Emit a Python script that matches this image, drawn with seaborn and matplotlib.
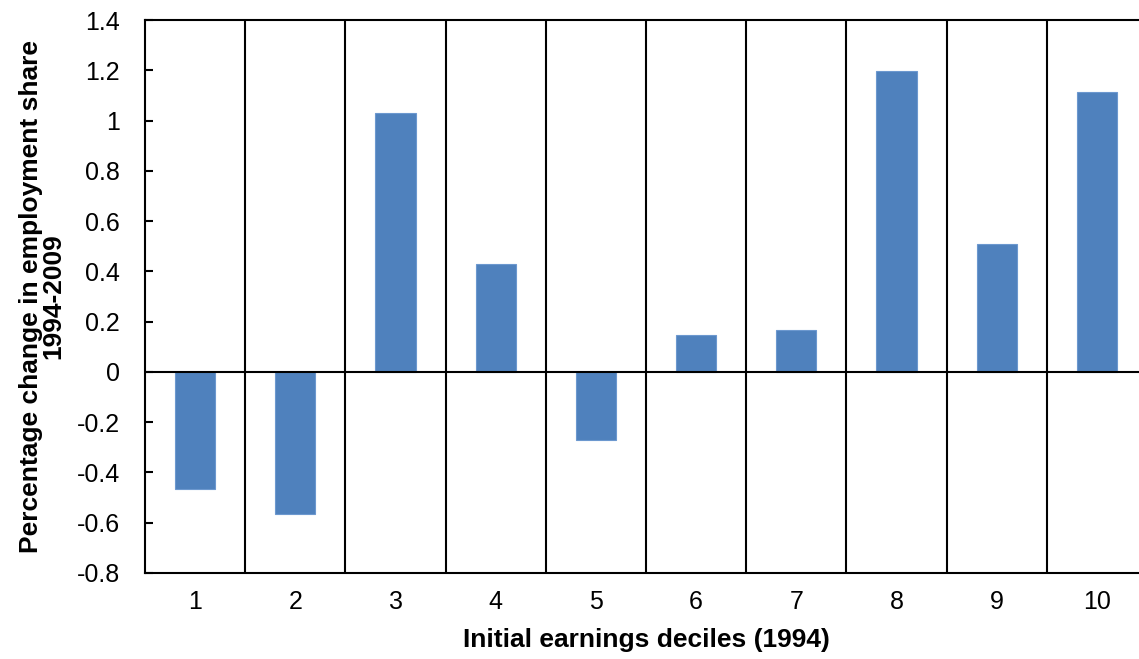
import matplotlib
matplotlib.use("Agg")
import matplotlib.pyplot as plt
import pandas as pd
import seaborn as sns

deciles = ["1", "2", "3", "4", "5", "6", "7", "8", "9", "10"]
change = [-0.465, -0.567, 1.03, 0.428, -0.27, 0.148, 0.165, 1.198, 0.51, 1.115]
y_ticks = [-0.8, -0.6, -0.4, -0.2, 0, 0.2, 0.4, 0.6, 0.8, 1, 1.2, 1.4]
y_tick_labels = ["-0.8", "-0.6", "-0.4", "-0.2", "0", "0.2", "0.4", "0.6", "0.8", "1", "1.2", "1.4"]

df = pd.DataFrame({"decile": deciles, "change": change})

sns.set_theme(style="white")
plt.rcParams["font.family"] = ["Liberation Sans", "DejaVu Sans"]

fig = plt.figure(figsize=(11.39, 6.59), dpi=100)
ax = fig.add_axes([145 / 1139, 1 - 573 / 659, 1002 / 1139, 553 / 659])

sns.barplot(data=df, x="decile", y="change", color="#4F81BD", saturation=1,
            width=0.4, edgecolor="#6C98CF", linewidth=0.8, ax=ax, zorder=3)

ax.set_xlim(-0.5, 9.5)
ax.set_ylim(-0.8, 1.4)
ax.set_yticks(y_ticks)
ax.set_yticklabels(y_tick_labels)

# category separators
ax.set_xticks([i + 0.5 for i in range(len(deciles) - 1)], minor=True)
ax.grid(which="minor", axis="x", color="black", linewidth=1.5)
ax.axhline(0, color="black", linewidth=1.5, zorder=4)

for s in ax.spines.values():
    s.set_color("black")
    s.set_linewidth(1.5)

ax.tick_params(axis="y", which="major", direction="in", length=6, width=1.5,
               color="black", left=True, pad=18, labelsize=18, labelcolor="black")
ax.tick_params(axis="x", which="both", length=0, pad=12, labelsize=18, labelcolor="black")

ax.set_xlabel("Initial earnings deciles (1994)", fontsize=19, fontweight="bold",
              color="black", labelpad=10)
ax.set_ylabel("Percentage change in employment share\n1994-2009", fontsize=19,
              fontweight="bold", color="black", labelpad=8, linespacing=0.95)

fig.savefig("out.png", dpi=100)
plt.close(fig)
